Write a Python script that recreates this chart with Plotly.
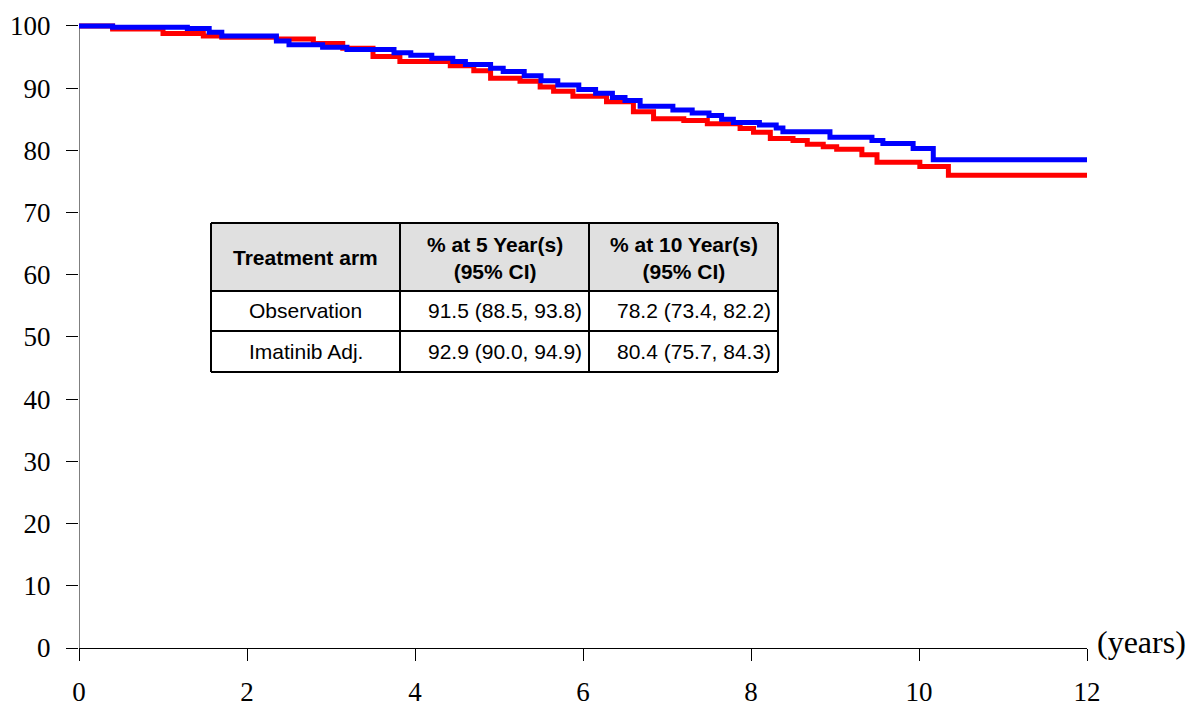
import plotly.graph_objects as go

# Observation arm (red)
obs_t = [0, 0.4, 1.0, 1.48, 1.7, 2.35, 2.79, 3.14, 3.5, 3.82, 4.42, 4.7, 4.9, 5.25, 5.49, 5.65, 5.88,
         6.28, 6.6, 6.84, 7.2, 7.48, 7.87, 8.03, 8.23, 8.5, 8.67, 8.86, 9.02, 9.32, 9.5, 10.01, 10.35, 12]
obs_s = [100, 99.5, 98.8, 98.4, 98.2, 97.9, 97.2, 96.4, 95.1, 94.3, 93.6, 92.8, 91.6, 91.1, 90.2, 89.5, 88.7,
         87.8, 86.2, 85.1, 84.8, 84.3, 83.5, 82.9, 81.9, 81.6, 81.0, 80.6, 80.2, 79.3, 78.1, 77.4, 76.0, 76.0]

# Imatinib adjuvant arm (blue)
ima_t = [0, 0.4, 1.29, 1.55, 1.7, 2.35, 2.5, 2.9, 3.19, 3.75, 3.95, 4.2, 4.45, 4.6, 4.9, 5.05, 5.3, 5.5,
         5.7, 5.95, 6.15, 6.35, 6.5, 6.68, 7.07, 7.3, 7.5, 7.65, 7.79, 8.1, 8.3, 8.38, 8.94, 9.44, 9.57,
         9.93, 10.17, 12]
ima_s = [100, 99.8, 99.6, 99.0, 98.4, 97.6, 97.0, 96.6, 96.2, 95.7, 95.3, 94.8, 94.3, 93.8, 93.2, 92.7, 92.0, 91.2,
         90.5, 89.8, 89.2, 88.5, 88.0, 87.1, 86.5, 86.0, 85.6, 85.0, 84.5, 84.1, 83.6, 83.0, 82.1, 81.6, 81.1,
         80.3, 78.5, 78.5]

x_ticks = [0, 2, 4, 6, 8, 10, 12]
y_ticks = [0, 10, 20, 30, 40, 50, 60, 70, 80, 90, 100]

table_header = ["<b>Treatment arm</b>", "<b>% at 5 Year(s)<br>(95% CI)</b>", "<b>% at 10 Year(s)<br>(95% CI)</b>"]
table_arm = ["Observation", "Imatinib Adj."]
table_5yr = ["91.5 (88.5, 93.8)", "92.9 (90.0, 94.9)"]
table_10yr = ["78.2 (73.4, 82.2)", "80.4 (75.7, 84.3)"]

fig = go.Figure()
fig.add_trace(go.Scatter(x=obs_t, y=obs_s, mode="lines", line=dict(color="#ff0000", width=5, shape="hv"),
                         name="Observation", showlegend=False))
fig.add_trace(go.Scatter(x=ima_t, y=ima_s, mode="lines", line=dict(color="#0000ff", width=5, shape="hv"),
                         name="Imatinib Adj.", showlegend=False))

W, H = 1203, 711
ml, mr = 79, 1203 - 1087
ymax = 100.8
plot_h = 622 * ymax / 100
plot_w = W - ml - mr
mt = 648 - plot_h
mb = 711 - 648


def px(x):
    return (x - ml) / plot_w


def py(y):
    return (648 - y) / plot_h


# table geometry (pixels)
col_edges = [211, 400, 589, 778]
row_edges = [223, 291, 331, 372]

shapes = []
shapes.append(dict(type="rect", xref="paper", yref="paper", x0=px(col_edges[0]), x1=px(col_edges[-1]),
                   y0=py(row_edges[0]), y1=py(row_edges[1]), fillcolor="#e0e0e0", line=dict(width=0),
                   layer="above"))
shapes.append(dict(type="rect", xref="paper", yref="paper", x0=px(col_edges[0]), x1=px(col_edges[-1]),
                   y0=py(row_edges[1]), y1=py(row_edges[-1]), fillcolor="white", line=dict(width=0),
                   layer="above"))
for cx in col_edges:
    shapes.append(dict(type="line", xref="paper", yref="paper", x0=px(cx), x1=px(cx),
                       y0=py(row_edges[0]), y1=py(row_edges[-1]), line=dict(color="black", width=2),
                       layer="above"))
for ry in row_edges:
    shapes.append(dict(type="line", xref="paper", yref="paper", x0=px(col_edges[0]), x1=px(col_edges[-1]),
                       y0=py(ry), y1=py(ry), line=dict(color="black", width=2), layer="above"))
# y axis line from 0 to 100
shapes.append(dict(type="line", xref="x", yref="y", x0=0, x1=0, y0=0, y1=100,
                   line=dict(color="black", width=1), layer="below"))

tfont_b = dict(family="Liberation Sans, Arial", size=21, color="black")
tfont = dict(family="Liberation Sans, Arial", size=21, color="black")

annotations = []
hy = py((row_edges[0] + row_edges[1]) / 2 + 1)
for i, txt in enumerate(table_header):
    cxm = (col_edges[i] + col_edges[i + 1]) / 2
    annotations.append(dict(x=px(cxm), y=hy, xref="paper", yref="paper", text=txt, showarrow=False,
                            xanchor="center", yanchor="middle", align="center", font=tfont_b))
for r in range(len(table_arm)):
    ym = py((row_edges[r + 1] + row_edges[r + 2]) / 2)
    annotations.append(dict(x=px((col_edges[0] + col_edges[1]) / 2), y=ym, xref="paper", yref="paper",
                            text=table_arm[r], showarrow=False, xanchor="center", yanchor="middle", font=tfont))
    annotations.append(dict(x=px(col_edges[2] - 5), y=ym, xref="paper", yref="paper",
                            text=table_5yr[r], showarrow=False, xanchor="right", yanchor="middle", font=tfont))
    annotations.append(dict(x=px(col_edges[3] - 5), y=ym, xref="paper", yref="paper",
                            text=table_10yr[r], showarrow=False, xanchor="right", yanchor="middle", font=tfont))

annotations.append(dict(x=12, y=0, xref="x", yref="y", text="(years)", showarrow=False,
                        xanchor="left", yanchor="middle", xshift=8, yshift=6,
                        font=dict(family="Liberation Serif", size=32, color="black")))

tickfont = dict(family="Liberation Serif", size=27, color="black")
fig.update_layout(
    width=W, height=H,
    margin=dict(l=ml, r=mr, t=mt, b=mb, autoexpand=False),
    paper_bgcolor="white", plot_bgcolor="white",
    font=dict(family="Liberation Serif", color="black"),
    shapes=shapes, annotations=annotations,
    xaxis=dict(range=[0, 12], tickvals=x_ticks, ticks="outside", ticklen=12, tickcolor="black",
               showline=True, linecolor="black", linewidth=1, showgrid=False, zeroline=False,
               tickfont=tickfont, ticklabelstandoff=8, automargin=False),
    yaxis=dict(range=[0, ymax], tickvals=y_ticks, ticks="outside", ticklen=12, tickcolor="black",
               showline=False, showgrid=False, zeroline=False,
               tickfont=tickfont, ticklabelstandoff=10, automargin=False),
)

fig.write_html("out.html")
